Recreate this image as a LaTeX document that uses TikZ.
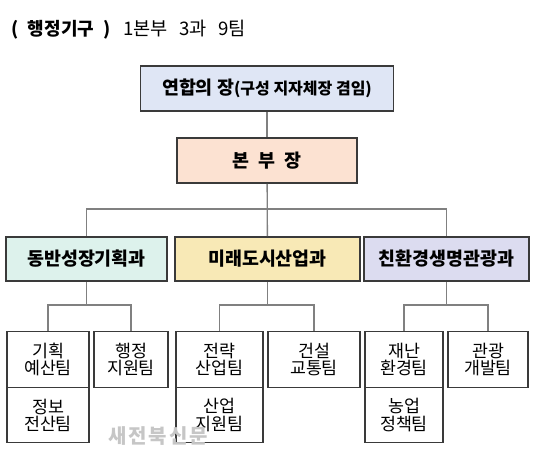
\documentclass[tikz,border=0pt]{standalone}
\usepackage{fontspec}
\setmainfont{Noto Sans CJK KR}
\usepackage{xcolor}
\usepackage{tikz}
\definecolor{unionblue}{HTML}{DFE6F5}
\definecolor{chiefpeach}{HTML}{FCE2D2}
\definecolor{deptmint}{HTML}{DDF2EC}
\definecolor{deptyellow}{HTML}{F8E9B6}
\definecolor{deptlav}{HTML}{DCDCF0}
\definecolor{linkgray}{HTML}{808080}
\definecolor{framegray}{HTML}{3A3A3A}
\definecolor{markgray}{HTML}{C6C6C6}

\begin{document}
\begin{tikzpicture}[x=0.75pt,y=-0.75pt,
  topbox/.style={draw=framegray,line width=1.4pt,minimum height=33.75pt,
    inner sep=0pt,font=\bfseries\fontsize{13.8}{15}\selectfont},
  deptbox/.style={draw=framegray,line width=1.3pt,minimum height=33pt,
    inner sep=0pt,font=\bfseries\fontsize{13.8}{15}\selectfont},
  teambox/.style={draw=framegray,line width=0.9pt,minimum height=41.6pt,
    inner sep=0pt,align=center,font=\fontsize{13}{12.8}\selectfont},
  link/.style={linkgray,line width=1pt}]
  \useasboundingbox (0,0) rectangle (534,463);

  \node[anchor=west,font=\fontsize{14}{15}\selectfont] (title) at (7,30)
    {{\bfseries\fontsize{13.5}{14}\selectfont(\enspace 행정기구\enspace )}\hspace{0.7em}1본부\hspace{0.6em}3과\hspace{0.6em}9팀};

  \node[topbox,fill=unionblue,minimum width=189.75pt] (union) at (267,88.5)
    {연합의 장{\fontsize{12}{13}\selectfont(구성 지자체장 겸임)}};
  \node[topbox,fill=chiefpeach,minimum width=135pt] (chief) at (267,160.5)
    {본\hspace{0.5em}부\hspace{0.5em}장};

  \node[deptbox,fill=deptmint,minimum width=120.75pt] (deptA) at (86.5,259) {동반성장기획과};
  \node[deptbox,fill=deptyellow,minimum width=138.75pt] (deptB) at (267.5,259) {미래도시산업과};
  \node[deptbox,fill=deptlav,minimum width=123.75pt] (deptC) at (446.5,259) {친환경생명관광과};

  \node[teambox,minimum width=61.5pt] (plan) at (48,359.5) {기획\\예산팀};
  \node[teambox,minimum width=61.5pt] (info) at (48,415) {정보\\전산팀};
  \node[teambox,minimum width=55.5pt] (admin) at (131,359.5) {행정\\지원팀};
  \node[teambox,minimum width=65.25pt] (strat) at (219.5,359.5) {전략\\산업팀};
  \node[teambox,minimum width=65.25pt] (indus) at (219.5,415) {산업\\지원팀};
  \node[teambox,minimum width=69pt] (build) at (314,359.5) {건설\\교통팀};
  \node[teambox,minimum width=58.5pt] (safety) at (404,359.5) {재난\\환경팀};
  \node[teambox,minimum width=58.5pt] (farm) at (404,415) {농업\\정책팀};
  \node[teambox,minimum width=60pt] (tour) at (488,359.5) {관광\\개발팀};

  \coordinate (hub) at (267,209);
  \coordinate (jA) at (86.5,305);
  \coordinate (jB) at (267.5,305);
  \coordinate (jC) at (446.5,305);

  \draw[link] (union) -- (chief);
  \draw[link] (chief) -- (deptB);
  \draw[link] (deptA.north) |- (hub) -| (deptC.north);
  \draw[link] (deptA) -- (jA) (plan.north) |- (jA) -| (admin.north);
  \draw[link] (deptB) -- (jB) (strat.north) |- (jB) -| (build.north);
  \draw[link] (deptC) -- (jC) (safety.north) |- (jC) -| (tour.north);

  \node[text=markgray,font=\bfseries\fontsize{15}{16}\selectfont] (mark) at (158,436)
    {새\hspace{1.5pt}전\hspace{1.5pt}북\hspace{1.5pt}신\hspace{1.5pt}문};
\end{tikzpicture}
\end{document}
